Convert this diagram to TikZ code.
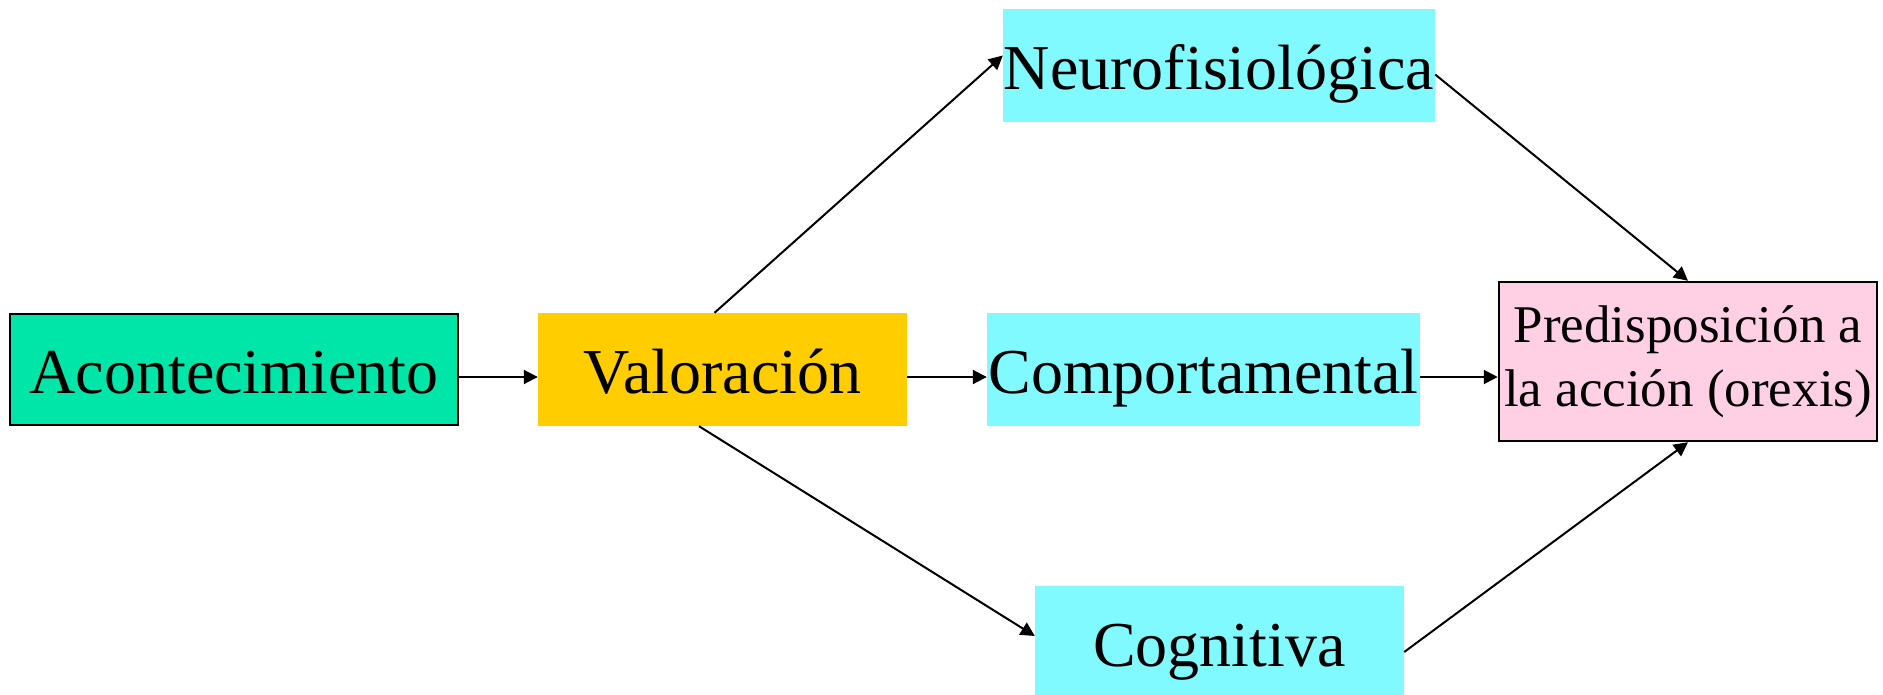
\documentclass[tikz,border=0pt]{standalone}
\usepackage{fontspec}
\setmainfont{Liberation Serif}
\usetikzlibrary{arrows.meta}
\definecolor{acgreen}{HTML}{00E5A8}
\definecolor{valyellow}{HTML}{FFCD00}
\definecolor{cyanbox}{HTML}{80F9FF}
\definecolor{pinkbox}{HTML}{FFD0E4}
\begin{document}
\begin{tikzpicture}[x=1pt,y=-1pt,
  box/.style={inner sep=0pt, text height=47pt, text depth=0pt, minimum height=113pt,
    font=\fontsize{64}{76}\selectfont},
  framed/.style={draw=black, line width=2.5pt},
  arr/.style={-{Triangle[length=14pt,width=14pt]}, line width=2pt}]
\clip (0,0) rectangle (1883,694);
\fill[white] (0,0) rectangle (1883,694);
\node[box, framed, fill=acgreen, minimum width=448pt, minimum height=111pt] (acont) at (234,369.5) {Acontecimiento};
\node[box, fill=valyellow, minimum width=369pt] (valo) at (722.5,369.5) {Valoración};
\node[box, fill=cyanbox, minimum width=432pt] (neuro) at (1219,65.5) {Neurofisiológica};
\node[box, fill=cyanbox, minimum width=433pt] (comp) at (1203.5,369.5) {Comportamental};
\node[box, fill=cyanbox, minimum width=369pt] (cog) at (1219.5,642.5) {Cognitiva};
\node[framed, fill=pinkbox, inner sep=0pt, minimum width=378pt, minimum height=159pt,
  align=center, font=\fontsize{53}{64}\selectfont] (pred) at (1688,361.5) {Predisposición a\\la acción (orexis)};
\draw[arr] ([yshift=-7.5pt]acont.east) -- ([yshift=-7.5pt]acont.east -| valo.west);
\draw[arr] ([yshift=-7.5pt]valo.east) -- ([yshift=-7.5pt]valo.east -| comp.west);
\draw[arr] ([yshift=-7.5pt]comp.east) -- ([yshift=-7.5pt]comp.east -| pred.west);
\draw[arr] ([xshift=-8pt]valo.north) -- ([yshift=10pt]neuro.west);
\draw[arr] ([xshift=-23.5pt]valo.south) -- ([yshift=6.5pt]cog.west);
\draw[arr] ([yshift=-9pt]neuro.east) -- (pred.north);
\draw[arr] ([yshift=-9.5pt]cog.east) -- (pred.south);
\end{tikzpicture}
\end{document}
